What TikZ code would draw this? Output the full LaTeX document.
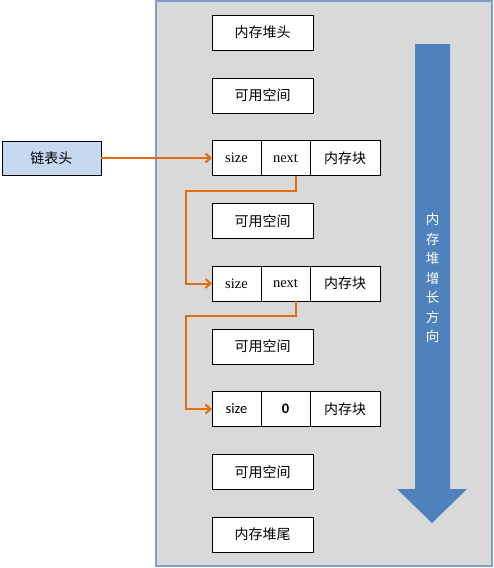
\documentclass[tikz,border=0pt]{standalone}
\usepackage{fontspec}
\setmainfont{Liberation Serif}
\newfontfamily\cjk{Noto Sans CJK SC}
\newfontfamily\calib{Carlito}
\usepackage{xcolor}
\usetikzlibrary{positioning, arrows.meta}

\definecolor{heapgray}{HTML}{D9D9D9}
\definecolor{heapedge}{HTML}{7F9FC8}
\definecolor{linkorange}{HTML}{E46C0A}
\definecolor{growblue}{HTML}{4F81BD}
\definecolor{listblue}{HTML}{C6D9F1}

\begin{document}
\begin{tikzpicture}[x=1pt, y=-1pt, node distance=27.75pt,
	membox/.style={draw, fill=white, minimum width=101pt, minimum height=35pt, inner sep=0pt, outer sep=0pt, font=\cjk\fontsize{14}{16}\selectfont},
	cell/.style={draw, fill=white, minimum height=35pt, inner sep=0pt, outer sep=0pt, font=\fontsize{14.5}{16}\selectfont},
	sizecell/.style={cell, minimum width=49pt},
	nextcell/.style={cell, minimum width=49pt},
	blockcell/.style={cell, minimum width=70pt, font=\cjk\fontsize{14}{16}\selectfont},
	link/.style={linkorange, line width=2pt, -{Straight Barb[length=5pt, width=9pt]}}]
	\useasboundingbox (0,0) rectangle (494,568);
	\draw[heapedge, line width=2pt, fill=heapgray] (156,1) rectangle (492,566);
	\fill[growblue] (415,44) -- (450,44) -- (450,489) -- (467,489) -- (432,523) -- (397,489) -- (415,489) -- cycle;
	\node[white, align=center, inner sep=0pt, font=\cjk\fontsize{13.5}{19.5}\selectfont] (grow) at (432.5,278) {内\\存\\堆\\增\\长\\方\\向};
	\node[membox] (head) at (262.5,32.5) {内存堆头};
	\node[membox, below=of head] (free1) {可用空间};
	\node[sizecell, below=of free1.south west, anchor=north west] (size1) {size};
	\node[nextcell, right=0pt of size1] (next1) {next};
	\node[blockcell, right=0pt of next1] (block1) {内存块};
	\node[membox, below=of size1.south west, anchor=north west] (free2) {可用空间};
	\node[sizecell, below=of free2.south west, anchor=north west] (size2) {size};
	\node[nextcell, right=0pt of size2] (next2) {next};
	\node[blockcell, right=0pt of next2] (block2) {内存块};
	\node[membox, below=of size2.south west, anchor=north west] (free3) {可用空间};
	\node[sizecell, below=of free3.south west, anchor=north west, font=\calib\fontsize{14.5}{16}\selectfont] (size3) {size};
	\node[nextcell, right=0pt of size3, font=\calib\bfseries\fontsize{14.5}{16}\selectfont] (next3) {0};
	\node[blockcell, right=0pt of next3] (block3) {内存块};
	\node[membox, below=of size3.south west, anchor=north west] (free4) {可用空间};
	\node[membox, below=of free4] (tail) {内存堆尾};
	\node[draw, fill=listblue, minimum width=99pt, minimum height=34pt, inner sep=0pt, outer sep=0pt, font=\cjk\fontsize{14}{16}\selectfont, left=111pt of size1] (list) {链表头};
	\draw[link] (list.east) -- (size1.west);
	\draw[link] ([xshift=10.5pt]next1.south) -- ++(0,15) -| ([xshift=-26pt]size2.west) -- (size2.west);
	\draw[link] ([xshift=10.5pt]next2.south) -- ++(0,15) -| ([xshift=-26pt]size3.west) -- (size3.west);
\end{tikzpicture}
\end{document}
